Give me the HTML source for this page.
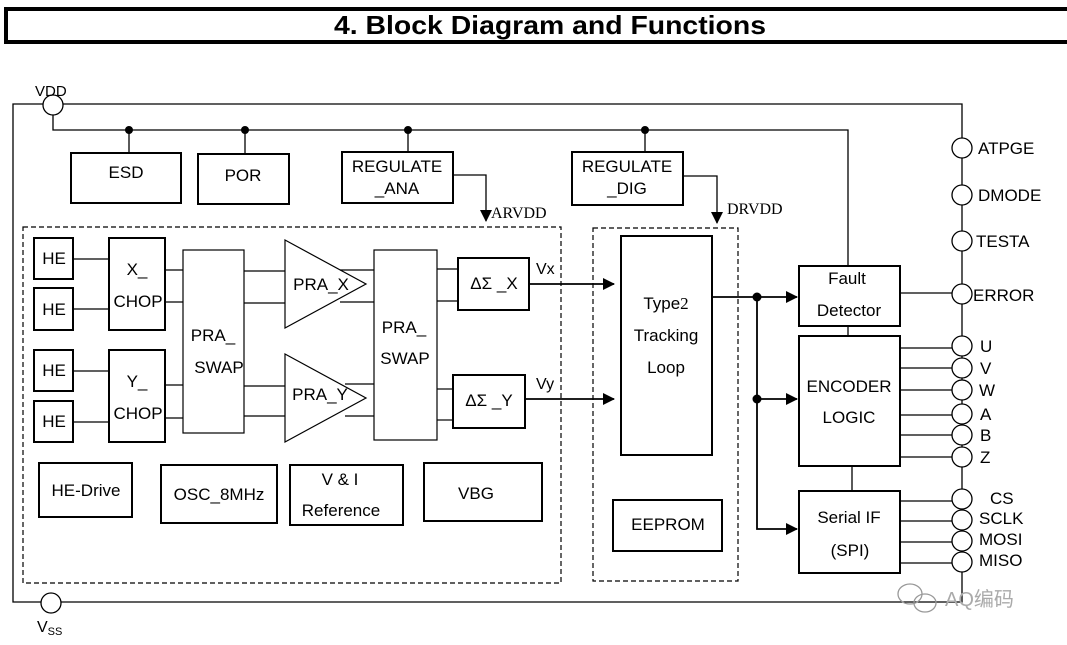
<!DOCTYPE html>
<html><head><meta charset="utf-8"><style>
html,body{margin:0;padding:0;background:#fff;}
svg{display:block;font-family:"Liberation Sans",Arial,sans-serif;}
</style></head><body>
<svg width="1067" height="645" viewBox="0 0 1067 645" xmlns="http://www.w3.org/2000/svg">
<defs>
<marker id="ar" markerWidth="12" markerHeight="12" refX="11" refY="6" orient="auto" markerUnits="userSpaceOnUse"><path d="M0,0 L12,6 L0,12 z" fill="#000"/></marker>
</defs>
<rect x="6" y="9" width="1070" height="33" fill="#fff" stroke="#000" stroke-width="4"/>
<text x="550" y="34" font-size="26" font-weight="bold" text-anchor="middle" font-family="Liberation Sans Narrow,Liberation Sans,sans-serif" textLength="432" lengthAdjust="spacingAndGlyphs">4. Block Diagram and Functions</text>

<g fill="none" stroke="#000" stroke-width="1.3">
<path d="M13,104 H962 V602 H13 Z"/>
<path d="M53,114 V130 H848 V265"/>
<line x1="129" y1="130" x2="129" y2="152"/>
<line x1="245" y1="130" x2="245" y2="154"/>
<line x1="408" y1="130" x2="408" y2="152"/>
<line x1="645" y1="130" x2="645" y2="152"/>
</g>
<g fill="#000">
<circle cx="129" cy="130" r="4"/><circle cx="245" cy="130" r="4"/><circle cx="408" cy="130" r="4"/><circle cx="645" cy="130" r="4"/>
</g>
<circle cx="53" cy="105" r="10" fill="#fff" stroke="#000" stroke-width="1.3"/>
<text x="35" y="96" font-size="15">VDD</text>
<circle cx="51" cy="603" r="10" fill="#fff" stroke="#000" stroke-width="1.3"/>
<text x="37" y="632" font-size="16">V<tspan font-size="11" dy="3">SS</tspan></text>

<g fill="none" stroke="#000" stroke-width="2">
<rect x="71" y="153" width="110" height="50"/>
<rect x="198" y="154" width="91" height="50"/>
<rect x="342" y="152" width="111" height="51"/>
<rect x="572" y="152" width="111" height="53"/>
</g>
<g font-size="17" text-anchor="middle">
<text x="126" y="178">ESD</text>
<text x="243" y="181">POR</text>
<text x="397" y="172">REGULATE</text><text x="397" y="194">_ANA</text>
<text x="627" y="172">REGULATE</text><text x="627" y="194">_DIG</text>
</g>
<g fill="none" stroke="#000" stroke-width="1.3">
<path d="M453,175 H486 V221" marker-end="url(#ar)"/>
<path d="M683,176 H717 V223" marker-end="url(#ar)"/>
</g>
<text x="491" y="218" font-size="16" font-family="Liberation Serif,serif">ARVDD</text>
<text x="727" y="214" font-size="16" font-family="Liberation Serif,serif">DRVDD</text>

<g fill="none" stroke="#000" stroke-width="1.2" stroke-dasharray="5,3">
<rect x="23" y="227" width="538" height="356"/>
<rect x="593" y="228" width="145" height="353"/>
</g>

<g fill="none" stroke="#000" stroke-width="1.2">
<line x1="73" y1="259" x2="109" y2="259"/><line x1="73" y1="309" x2="109" y2="309"/>
<line x1="73" y1="371" x2="109" y2="371"/><line x1="73" y1="422" x2="109" y2="422"/>
<line x1="165" y1="270" x2="183" y2="270"/><line x1="165" y1="302" x2="183" y2="302"/>
<line x1="165" y1="385" x2="183" y2="385"/><line x1="165" y1="418" x2="183" y2="418"/>
<line x1="244" y1="271" x2="285" y2="271"/><line x1="244" y1="303" x2="285" y2="303"/>
<line x1="244" y1="386" x2="285" y2="386"/><line x1="244" y1="416" x2="285" y2="416"/>
<line x1="340" y1="270" x2="374" y2="270"/><line x1="340" y1="302" x2="374" y2="302"/>
<line x1="345" y1="384" x2="374" y2="384"/><line x1="345" y1="416" x2="374" y2="416"/>
<line x1="437" y1="269" x2="458" y2="269"/><line x1="437" y1="301" x2="458" y2="301"/>
<line x1="437" y1="389" x2="453" y2="389"/><line x1="437" y1="420" x2="453" y2="420"/>
<rect x="183" y="250" width="61" height="183"/>
<rect x="374" y="250" width="63" height="190"/>
<path d="M285,240 L366,284 L285,328 Z"/>
<path d="M285,354 L366,398 L285,442 Z"/>
</g>
<g fill="none" stroke="#000" stroke-width="2">
<rect x="34" y="238" width="39" height="41"/>
<rect x="34" y="288" width="39" height="42"/>
<rect x="34" y="350" width="39" height="41"/>
<rect x="34" y="401" width="39" height="41"/>
<rect x="109" y="238" width="56" height="92"/>
<rect x="109" y="350" width="56" height="92"/>
<rect x="458" y="258" width="71" height="52"/>
<rect x="453" y="375" width="72" height="53"/>
<rect x="621" y="236" width="91" height="219"/>
<rect x="39" y="463" width="93" height="54"/>
<rect x="161" y="465" width="116" height="58"/>
<rect x="290" y="465" width="113" height="60"/>
<rect x="424" y="463" width="118" height="58"/>
<rect x="613" y="500" width="109" height="51"/>
<rect x="799" y="266" width="101" height="60"/>
<rect x="799" y="336" width="101" height="130"/>
<rect x="799" y="491" width="101" height="82"/>
</g>
<g font-size="17" text-anchor="middle">
<text x="54" y="264">HE</text><text x="54" y="315">HE</text><text x="54" y="376">HE</text><text x="54" y="427">HE</text>
<text x="137" y="275">X_</text><text x="138" y="307">CHOP</text>
<text x="137" y="387">Y_</text><text x="138" y="419">CHOP</text>
<text x="213" y="341">PRA_</text><text x="219" y="373">SWAP</text>
<text x="404" y="333">PRA_</text><text x="405" y="364">SWAP</text>
<text x="321" y="290">PRA_X</text>
<text x="320" y="400">PRA_Y</text>
<text x="494" y="289">ΔΣ _X</text>
<text x="489" y="406">ΔΣ _Y</text>
<text x="86" y="496">HE-Drive</text>
<text x="219" y="500">OSC_8MHz</text>
<text x="340" y="485">V &amp; I</text><text x="341" y="516">Reference</text>
<text x="476" y="499">VBG</text>
<text x="668" y="530">EEPROM</text>
<text x="666" y="309">Type<tspan font-family="Liberation Serif,serif">2</tspan></text>
<text x="666" y="341">Tracking</text>
<text x="666" y="373">Loop</text>
<text x="847" y="284">Fault</text><text x="849" y="316">Detector</text>
<text x="849" y="392">ENCODER</text><text x="849" y="423">LOGIC</text>
<text x="849" y="523">Serial IF</text><text x="850" y="556">(SPI)</text>
</g>
<text x="536" y="274" font-size="16">Vx</text>
<text x="536" y="389" font-size="16">Vy</text>

<g fill="none" stroke="#000" stroke-width="1.8">
<path d="M529,284 H614" marker-end="url(#ar)"/>
<path d="M525,399 H614" marker-end="url(#ar)"/>
<path d="M712,297 H797" marker-end="url(#ar)"/>
<path d="M757,297 V529 H797" marker-end="url(#ar)"/>
<path d="M757,399 H797" marker-end="url(#ar)"/>
</g>
<circle cx="757" cy="297" r="4.5"/><circle cx="757" cy="399" r="4.5"/>
<g fill="none" stroke="#000" stroke-width="1.3">
<line x1="848" y1="326" x2="848" y2="336"/>
<line x1="852" y1="466" x2="852" y2="491"/>
<line x1="900" y1="293" x2="952" y2="293"/>
<line x1="900" y1="348" x2="952" y2="348"/><line x1="900" y1="368" x2="952" y2="368"/>
<line x1="900" y1="390" x2="952" y2="390"/><line x1="900" y1="415" x2="952" y2="415"/>
<line x1="900" y1="435" x2="952" y2="435"/><line x1="900" y1="457" x2="952" y2="457"/>
<line x1="900" y1="501" x2="952" y2="501"/><line x1="900" y1="521" x2="952" y2="521"/>
<line x1="900" y1="542" x2="952" y2="542"/><line x1="900" y1="563" x2="952" y2="563"/>
</g>
<g fill="#fff" stroke="#000" stroke-width="1.3">
<circle cx="962" cy="148" r="10"/><circle cx="962" cy="195" r="10"/><circle cx="962" cy="241" r="10"/>
<circle cx="962" cy="294" r="10"/>
<circle cx="962" cy="346" r="10"/><circle cx="962" cy="368" r="10"/><circle cx="962" cy="390" r="10"/>
<circle cx="962" cy="414" r="10"/><circle cx="962" cy="435" r="10"/><circle cx="962" cy="457" r="10"/>
<circle cx="962" cy="499" r="10"/><circle cx="962" cy="520" r="10"/><circle cx="962" cy="541" r="10"/><circle cx="962" cy="562" r="10"/>
</g>
<g font-size="17">
<text x="978" y="154">ATPGE</text>
<text x="978" y="201">DMODE</text>
<text x="976" y="247">TESTA</text>
<text x="973" y="301">ERROR</text>
<text x="980" y="352">U</text><text x="980" y="374">V</text><text x="979" y="396">W</text>
<text x="980" y="420">A</text><text x="980" y="441">B</text><text x="980" y="463">Z</text>
<text x="990" y="504">CS</text><text x="979" y="524">SCLK</text><text x="979" y="545">MOSI</text><text x="979" y="566">MISO</text>
</g>
<g fill="none" stroke="#999" stroke-width="1.3">
<ellipse cx="910" cy="594" rx="12" ry="10"/><ellipse cx="925" cy="603" rx="11" ry="9"/>
</g>
<text x="945" y="606" font-size="20" fill="#aaa" font-family="Liberation Sans,Noto Sans CJK SC,sans-serif">AQ编码</text>
</svg>
</body></html>
